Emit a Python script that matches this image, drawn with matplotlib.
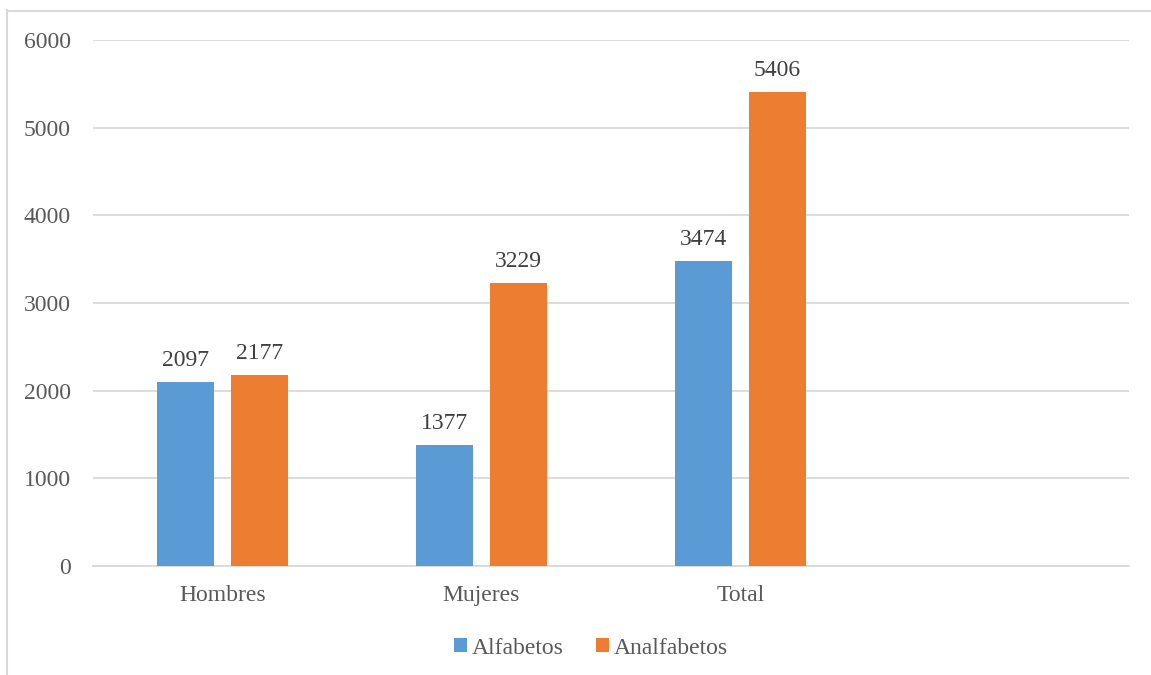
import matplotlib
matplotlib.use("Agg")
import matplotlib.pyplot as plt
from matplotlib.lines import Line2D
from matplotlib.patches import Patch
import numpy as np

categories = ["Hombres", "Mujeres", "Total", ""]
alfabetos = [2097, 1377, 3474]
analfabetos = [2177, 3229, 5406]
series_names = ["Alfabetos", "Analfabetos"]
yticks = [0, 1000, 2000, 3000, 4000, 5000, 6000]

BLUE = "#5B9BD5"
ORANGE = "#ED7D31"
GRID = "#D9D9D9"
TEXT = "#595959"

plt.rcParams["font.family"] = ["Liberation Serif", "DejaVu Serif"]
plt.rcParams["font.size"] = 17

fig = plt.figure(figsize=(11.51, 6.75), dpi=100)
ax = fig.add_axes([93 / 1151, 109 / 675, 1036 / 1151, 526 / 675])

x = np.arange(len(alfabetos))
width = 0.22
offset = 0.143
bars_a = ax.bar(x - offset, alfabetos, width, color=BLUE, zorder=3)
bars_b = ax.bar(x + offset, analfabetos, width, color=ORANGE, zorder=3)

for bars in (bars_a, bars_b):
    for b in bars:
        h = b.get_height()
        ax.annotate(f"{h:.0f}", (b.get_x() + b.get_width() / 2, h),
                    xytext=(0, 8), textcoords="offset points",
                    ha="center", va="bottom", color="#404040", fontsize=17)

ax.set_xlim(-0.5, 3.5)
ax.set_ylim(0, 6000)
ax.set_xticks(range(len(categories)))
ax.set_xticklabels(categories)
ax.set_yticks(yticks)
ax.yaxis.grid(True, color=GRID, linewidth=1.3, zorder=0)
ax.tick_params(axis="both", length=0, colors=TEXT, labelsize=17)
ax.tick_params(axis="y", pad=16)
ax.tick_params(axis="x", pad=14)
for side in ("top", "right", "left"):
    ax.spines[side].set_visible(False)
ax.spines["bottom"].set_color(GRID)
ax.spines["bottom"].set_linewidth(1.3)

handles = [Patch(facecolor=BLUE), Patch(facecolor=ORANGE)]
leg = fig.legend(handles, series_names, loc="center", bbox_to_anchor=(591 / 1151, 1 - 648 / 675),
                 ncol=2, frameon=False, handlelength=0.55, handleheight=0.55,
                 handletextpad=0.2, columnspacing=1.4, fontsize=17)
for t in leg.get_texts():
    t.set_color(TEXT)

# chart frame
fig.add_artist(Line2D([7.5 / 1151, 7.5 / 1151], [0, 1 - 10 / 675], color=GRID, linewidth=1.5))
fig.add_artist(Line2D([7 / 1151, 1], [1 - 10.5 / 675, 1 - 10.5 / 675], color=GRID, linewidth=1.5))

fig.savefig("out.png", dpi=100, facecolor="white")
